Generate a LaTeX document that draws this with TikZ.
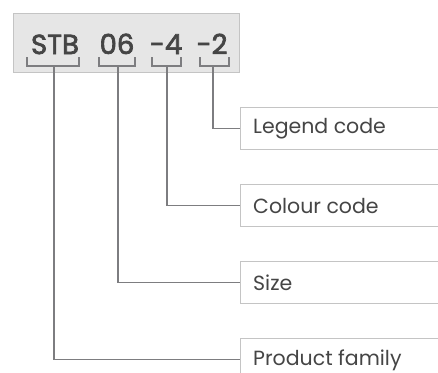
\documentclass[tikz,border=0pt]{standalone}
\usepackage{fontspec}
\setmainfont{Poppins}
\newfontfamily\codefont[FakeBold=2.5]{Poppins}
\begin{document}
\begin{tikzpicture}[x=1pt,y=-1pt,
  boxline/.style={draw=boxgray,line width=1.3pt},
  conn/.style={draw=linegray,line width=1.6pt},
  codetxt/.style={anchor=base,inner sep=0pt,text=txtgray,font=\fontsize{27.5}{28}\codefont},
  lbl/.style={anchor=west,inner sep=0pt,text=txtgray,font=\fontsize{20.5}{22}\selectfont},
  lblbox/.style={boxline,fill=white,minimum width=240pt,minimum height=42pt,anchor=north west,inner sep=0pt}]
\definecolor{boxgray}{HTML}{C4C4C4}
\definecolor{linegray}{HTML}{7D7D80}
\definecolor{txtgray}{HTML}{454545}
\definecolor{fillgray}{HTML}{E6E6E6}
\useasboundingbox (0,0) rectangle (438,372);
\clip (0,0) rectangle (438,372);
% code box
\node[boxline,fill=fillgray,minimum width=226pt,minimum height=59pt,inner sep=0pt,anchor=north west] (codebox) at (13,13) {};
\node[codetxt] (stb) at (55,54) {STB};
\node[codetxt] (n06) at (117,54) {06};
\node[codetxt] (n4) at (166,54) {-4};
\node[codetxt] (n2) at (212,54) {-2};
% brackets
\coordinate (b1) at (54,66);
\coordinate (b2) at (118,66);
\coordinate (b3) at (167,66);
\coordinate (b4) at (213,66);
\draw[conn] (27,57) -- (27,66) -- (79,66) -- (79,57);
\draw[conn] (99,57) -- (99,66) -- (135,66) -- (135,57);
\draw[conn] (152,57) -- (152,66) -- (181,66) -- (181,57);
\draw[conn] (200,57) -- (200,66) -- (229,66) -- (229,57);
% label boxes
\node[lblbox] (legend) at (240,107) {};
\node[lblbox] (colour) at (240,184) {};
\node[lblbox] (size) at (240,261) {};
\node[lblbox] (family) at (240,338) {};
\node[lbl] (tlegend) at (253,129) {Legend code};
\node[lbl] (tcolour) at (253,206) {Colour code};
\node[lbl] (tsize) at (253,283) {Size};
\node[lbl] (tfamily) at (253,360) {Product family};
% connectors
\draw[conn] (b4) |- (legend.west);
\draw[conn] (b3) |- (colour.west);
\draw[conn] (b2) |- (size.west);
\draw[conn] (b1) |- (family.west);
\end{tikzpicture}
\end{document}
